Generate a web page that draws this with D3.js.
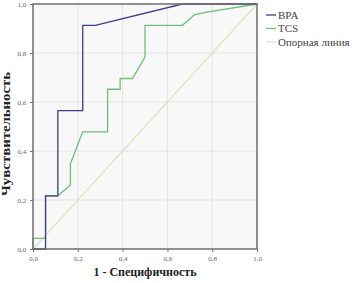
<!DOCTYPE html>
<html>
<head>
<meta charset="utf-8">
<script src="https://cdn.jsdelivr.net/npm/d3@7"></script>
<style>
  body { margin: 0; background: #fff; }
  svg { display: block; }
</style>
</head>
<body>
<div id="chart"></div>
<script>
'use strict';

// ROC points (x = 1 - specificity, y = sensitivity)
let bpaX = [0, 0.056, 0.056, 0.111, 0.111, 0.222, 0.222, 0.278, 0.667, 1.0];
let bpaY = [0, 0, 0.217, 0.217, 0.565, 0.565, 0.913, 0.913, 1.0, 1.0];

let tcsX = [0, 0, 0.056, 0.056, 0.111, 0.167, 0.167, 0.222, 0.333, 0.333, 0.389, 0.389, 0.444, 0.5, 0.5, 0.667, 0.722, 0.778, 1.0];
let tcsY = [0, 0.043, 0.043, 0.217, 0.217, 0.261, 0.348, 0.478, 0.478, 0.652, 0.652, 0.696, 0.696, 0.783, 0.913, 0.913, 0.957, 0.967, 1.0];

let refX = [0, 1];
let refY = [0, 1];

let tickValues = [0, 0.2, 0.4, 0.6, 0.8, 1.0];
let seriesNames = ["BPA", "TCS", "Опорная линия"];
let seriesColors = ["#3a3f8f", "#6cc07a", "#e6e0c8"];

const width = 355, height = 283;
const plotLeft = 33, plotRight = 257, plotTop = 4, plotBottom = 249;

let svg = d3.select("#chart").append("svg")
    .attr("width", width)
    .attr("height", height);

let x = d3.scaleLinear().domain([0, 1]).range([plotLeft, plotRight]);
let y = d3.scaleLinear().domain([0, 1]).range([plotBottom, plotTop]);

// plot background
svg.append("rect")
    .attr("x", plotLeft).attr("y", plotTop)
    .attr("width", plotRight - plotLeft).attr("height", plotBottom - plotTop)
    .style("fill", "#f8f8f8");

// grid
svg.selectAll(".vgrid").data(tickValues.slice(1, -1)).enter()
    .append("line")
    .attr("x1", d => x(d)).attr("x2", d => x(d))
    .attr("y1", plotTop).attr("y2", plotBottom)
    .style("stroke", "#e4e4e4").style("stroke-width", 1);
svg.selectAll(".hgrid").data(tickValues.slice(1, -1)).enter()
    .append("line")
    .attr("y1", d => y(d)).attr("y2", d => y(d))
    .attr("x1", plotLeft).attr("x2", plotRight)
    .style("stroke", "#e4e4e4").style("stroke-width", 1);

let fmt = d => d3.format(".1f")(d).replace(".", ",");

let xAxis = svg.append("g")
    .attr("transform", "translate(0," + plotBottom + ")")
    .call(d3.axisBottom(x).tickValues(tickValues).tickFormat(fmt).tickSize(3).tickSizeOuter(0));
let yAxis = svg.append("g")
    .attr("transform", "translate(" + plotLeft + ",0)")
    .call(d3.axisLeft(y).tickValues(tickValues).tickFormat(fmt).tickSize(3).tickSizeOuter(0));
[xAxis, yAxis].forEach(a => {
    a.select(".domain").remove();
    a.selectAll("line").style("stroke", "#777");
    a.selectAll("text")
        .style("font-family", "'Liberation Serif', 'DejaVu Serif', serif")
        .style("font-size", "7px")
        .style("fill", "#666");
});
xAxis.selectAll("text").attr("dy", "0.9em");
yAxis.selectAll("text").attr("dx", "-0.1em");

let line = d3.line().x(d => x(d[0])).y(d => y(d[1]));

let series = [
    d3.zip(refX, refY),
    d3.zip(tcsX, tcsY),
    d3.zip(bpaX, bpaY)
];
let seriesColorOrder = [seriesColors[2], seriesColors[1], seriesColors[0]];

svg.selectAll(".series").data(series).enter()
    .append("path")
    .attr("d", line)
    .style("fill", "none")
    .style("stroke", (d, i) => seriesColorOrder[i])
    .style("stroke-width", 1.3);

// frame
svg.append("rect")
    .attr("x", plotLeft).attr("y", plotTop)
    .attr("width", plotRight - plotLeft).attr("height", plotBottom - plotTop)
    .style("fill", "none")
    .style("stroke", "#6e6e6e")
    .style("stroke-width", 1.5);

// legend
let legend = svg.selectAll(".legend").data(seriesNames).enter()
    .append("g")
    .attr("transform", (d, i) => "translate(266," + (15 + i * 13.5) + ")");
legend.append("line")
    .attr("x1", 0).attr("x2", 10)
    .style("stroke", (d, i) => seriesColors[i])
    .style("stroke-width", 1.3);
legend.append("text")
    .attr("x", 12).attr("y", 0).attr("dy", "0.35em")
    .text(d => d)
    .style("font-family", "'Liberation Serif', 'DejaVu Serif', serif")
    .style("font-size", "11px")
    .style("fill", "#444");

// axis titles
svg.append("text")
    .attr("x", (plotLeft + plotRight) / 2).attr("y", 276)
    .attr("text-anchor", "middle")
    .text("1 - Специфичность")
    .style("font-family", "'Liberation Serif', 'DejaVu Serif', serif")
    .style("font-weight", "bold")
    .style("font-size", "12px")
    .style("fill", "#222");
svg.append("text")
    .attr("transform", "translate(10,134) rotate(-90)")
    .attr("text-anchor", "middle")
    .attr("textLength", 124)
    .attr("lengthAdjust", "spacingAndGlyphs")
    .text("Чувствительность")
    .style("font-family", "'Liberation Serif', 'DejaVu Serif', serif")
    .style("font-weight", "bold")
    .style("font-size", "12px")
    .style("fill", "#222");
</script>
</body>
</html>
